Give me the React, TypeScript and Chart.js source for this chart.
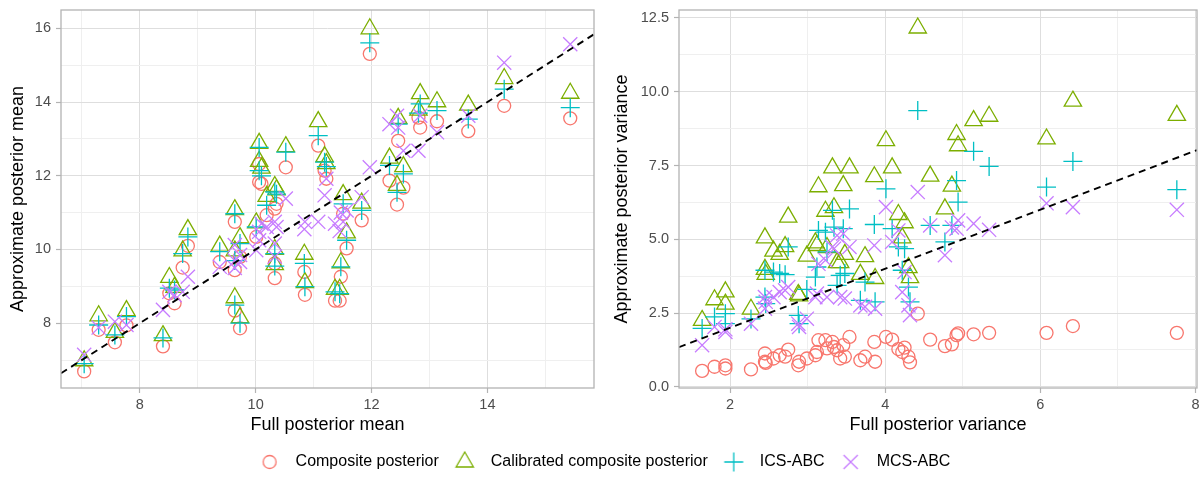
import React, { useEffect, useRef } from "react";
import { Chart, registerables } from "chart.js";

Chart.register(...registerables);

const FONT = '"Liberation Sans", Arial, Helvetica, sans-serif';

const seriesLabels = ["Composite posterior", "Calibrated composite posterior", "ICS-ABC", "MCS-ABC"];
const seriesColors = ["#F8766D", "#7CAE00", "#00BFC4", "#C77CFF"];

// ---- Left panel: posterior means ----
const meanFull = [7.04, 7.29, 7.57, 7.77, 8.40, 8.51, 8.60, 8.74, 8.83, 9.38, 9.64, 9.64, 9.64, 9.73, 9.73, 10.01, 10.33, 10.33, 10.06, 10.06, 10.10, 10.52, 10.33, 10.36, 10.19, 10.84, 10.85, 11.08, 11.19, 11.22, 11.57, 11.51, 11.83, 11.47, 11.37, 11.45, 12.31, 12.44, 12.55, 11.97, 12.46, 12.84, 12.81, 13.13, 13.67, 14.29, 15.43];
const meanComposite = [6.69, 7.82, 7.48, 7.94, 7.37, 8.81, 8.54, 9.51, 10.10, 9.66, 9.44, 10.75, 8.34, 7.86, 9.80, 10.34, 9.62, 9.22, 12.32, 11.83, 11.78, 12.23, 11.11, 11.24, 10.93, 9.39, 8.77, 12.82, 12.14, 11.92, 10.03, 10.97, 10.79, 9.26, 8.61, 8.61, 11.87, 11.22, 11.68, 15.31, 12.95, 13.31, 13.58, 13.48, 13.21, 13.90, 13.56];
const meanCalibrated = [6.98, 8.20, 7.75, 8.34, 7.66, 9.24, 8.97, 9.96, 10.54, 10.09, 9.96, 11.08, 8.69, 8.15, 10.32, 10.72, 10.00, 9.59, 12.88, 12.39, 12.21, 12.79, 11.71, 11.62, 11.44, 9.87, 9.10, 13.47, 12.52, 12.33, 10.45, 11.49, 11.26, 9.64, 8.92, 8.92, 12.48, 11.74, 12.25, 15.99, 13.56, 14.23, 13.78, 14.01, 13.92, 14.64, 14.24];
const meanICS = [6.90, 7.95, 7.68, 8.18, 7.60, 8.95, 8.90, 9.89, 10.34, 9.94, 9.70, 10.97, 8.49, 8.00, 10.16, 10.61, 9.89, 9.55, 12.77, 12.14, 12.00, 12.64, 11.56, 11.50, 11.20, 9.62, 8.99, 13.09, 12.37, 12.25, 10.25, 11.24, 11.06, 9.53, 8.85, 8.80, 12.28, 11.55, 12.05, 15.61, 13.40, 13.95, 13.70, 13.77, 13.54, 14.35, 13.85];
const meanMCS = [7.14, 7.88, 8.04, 7.95, 8.36, 8.85, 8.76, 8.85, 9.26, 9.53, 9.70, 10.12, 9.50, 9.66, 9.85, 9.98, 9.80, 10.16, 10.25, 10.48, 10.70, 11.38, 10.75, 10.61, 10.61, 10.55, 10.75, 10.75, 11.47, 11.92, 11.06, 10.75, 11.42, 11.00, 10.70, 10.50, 13.40, 13.63, 12.68, 12.23, 13.31, 13.63, 12.68, 13.18, 13.63, 15.07, 15.57];

const meanXRange = [6.64, 15.84];
const meanYRange = [6.24, 16.5];
const meanXMajor = [8, 10, 12, 14];
const meanXMinor = [7, 9, 11, 13, 15];
const meanYMajor = [8, 10, 12, 14, 16];
const meanYMinor = [7, 9, 11, 13, 15];

// ---- Right panel: posterior variances ----
const varFull = [1.64, 1.80, 1.94, 1.94, 2.27, 2.45, 2.45, 2.46, 2.56, 2.64, 2.71, 2.75, 2.88, 2.89, 2.99, 3.10, 3.12, 3.14, 3.23, 3.25, 3.32, 3.34, 3.38, 3.42, 3.46, 3.48, 3.54, 3.68, 3.74, 3.87, 3.86, 4.01, 4.09, 4.17, 4.22, 4.25, 4.30, 4.32, 4.42, 4.58, 4.77, 4.86, 4.92, 4.94, 5.14, 5.34, 6.08, 6.42, 7.76];
const varComposite = [0.54, 0.68, 0.73, 0.62, 0.59, 1.13, 0.85, 0.81, 0.96, 1.07, 1.02, 1.26, 0.73, 0.85, 0.96, 1.07, 1.18, 1.58, 1.58, 1.30, 1.52, 1.35, 1.24, 0.96, 1.41, 1.02, 1.69, 0.90, 1.02, 0.85, 1.52, 1.69, 1.60, 1.28, 1.18, 1.33, 1.02, 0.83, 2.48, 1.60, 1.38, 1.44, 1.75, 1.81, 1.78, 1.83, 1.83, 2.06, 1.83];
const varCalibrated = [2.25, 2.95, 3.22, 2.80, 2.63, 5.05, 3.98, 3.81, 4.60, 4.49, 4.75, 5.75, 3.13, 3.08, 4.43, 4.88, 4.79, 6.78, 5.95, 4.72, 7.42, 6.07, 4.21, 4.21, 6.82, 4.49, 7.42, 3.81, 4.41, 3.67, 7.12, 8.34, 7.42, 5.84, 5.05, 5.56, 4.04, 3.70, 12.16, 7.14, 6.03, 6.80, 8.55, 8.17, 9.02, 9.17, 8.40, 9.68, 9.20];
const varICS = [1.98, 2.37, 2.48, 2.14, 2.30, 3.95, 3.04, 2.82, 3.89, 3.84, 3.80, 4.74, 2.42, 2.14, 3.30, 3.72, 4.06, 5.30, 5.24, 4.57, 5.98, 5.41, 3.44, 3.78, 5.36, 3.84, 6.03, 2.93, 3.55, 2.88, 5.50, 6.71, 5.36, 4.74, 3.95, 4.68, 3.38, 2.88, 9.36, 5.47, 4.91, 5.47, 6.99, 6.26, 7.98, 7.47, 6.77, 7.64, 6.68];
const varMCS = [1.41, 2.03, 1.86, 1.95, 2.14, 3.04, 2.65, 2.88, 3.04, 3.21, 3.27, 3.38, 2.14, 2.03, 2.31, 3.04, 3.16, 4.17, 4.29, 3.04, 4.74, 4.68, 5.13, 3.04, 5.19, 2.99, 4.74, 2.76, 2.71, 2.65, 4.79, 6.09, 4.91, 5.30, 3.21, 3.89, 2.76, 2.43, 6.60, 5.47, 4.46, 5.40, 5.36, 5.64, 5.53, 5.32, 6.22, 6.09, 6.00];

const varXRange = [1.342, 8.02];
const varYRange = [-0.04, 12.77];
const varXMajor = [2, 4, 6, 8];
const varXMinor = [3, 5, 7];
const varYMajor = [0, 2.5, 5, 7.5, 10, 12.5];
const varYMinor = [1.25, 3.75, 6.25, 8.75, 11.25];

// ---- styling ----
const markerStyles = ["circle", "triangle", "cross", "crossRot"];
const markerRadii = [6.5, 10, 9.5, 10];
const MARK_W = 1.3;

function scatterSet(i: number, xs: number[], ys: number[]) {
  return {
    type: "scatter" as const,
    label: seriesLabels[i],
    data: xs.map((x, k) => ({ x, y: ys[k] })),
    pointStyle: markerStyles[i],
    pointRadius: markerRadii[i],
    pointHoverRadius: markerRadii[i],
    borderColor: seriesColors[i],
    backgroundColor: "rgba(0,0,0,0)",
    pointBorderWidth: MARK_W,
    borderWidth: MARK_W,
    showLine: false,
    clip: false as any,
    order: 4 - i,
  };
}

function identitySet(range: number[]) {
  return {
    type: "line" as const,
    label: "identity",
    data: [
      { x: range[0], y: range[0] },
      { x: range[1], y: range[1] },
    ],
    borderColor: "#000000",
    borderWidth: 1.9,
    borderDash: [7, 5],
    pointRadius: 0,
    fill: false,
    showLine: true,
    order: 0,
  };
}

function axis(
  title: string,
  range: number[],
  majors: number[],
  minors: number[],
  fmt: (v: number) => string,
  isY: boolean,
  size: number,
  titlePad: number
) {
  const all = [...majors, ...minors].sort((a, b) => a - b);
  const isMajor = (v: number) => majors.some((m) => Math.abs(m - v) < 1e-9);
  return {
    type: "linear" as const,
    min: range[0],
    max: range[1],
    afterBuildTicks: (s: any) => {
      s.ticks = all.map((v) => ({ value: v }));
    },
    afterFit: (s: any) => {
      if (isY) s.width = size;
      else s.height = size;
      s.paddingTop = 0;
      s.paddingBottom = 0;
      s.paddingLeft = 0;
      s.paddingRight = 0;
    },
    ticks: {
      autoSkip: false,
      maxRotation: 0,
      minRotation: 0,
      padding: isY ? 5 : 3,
      color: "#4d4d4d",
      font: { family: FONT, size: 14.5 },
      callback: (v: any) => (isMajor(Number(v)) ? fmt(Number(v)) : ""),
    },
    grid: {
      color: (c: any) => (c.tick && isMajor(c.tick.value) ? "#dedede" : "#efefef"),
      lineWidth: 1,
      drawTicks: true,
      tickLength: 5,
      tickWidth: 1.2,
      tickColor: (c: any) => (c.tick && isMajor(c.tick.value) ? "#b3b3b3" : "rgba(0,0,0,0)"),
    },
    border: { display: false },
    title: {
      display: true,
      text: title,
      color: "#000000",
      font: { family: FONT, size: 18 },
      padding: isY ? { top: titlePad, bottom: 0 } : { top: 0, bottom: titlePad },
    },
  };
}

const framePlugin = {
  id: "panelFrame",
  afterDatasetsDraw(chart: any) {
    const { ctx, chartArea } = chart;
    const { left, top, right, bottom } = chartArea;
    ctx.save();
    ctx.strokeStyle = "#b3b3b3";
    ctx.lineWidth = 1.3;
    ctx.strokeRect(left, top, right - left, bottom - top);
    ctx.restore();
  },
};

function makeIcon(i: number) {
  const c = document.createElement("canvas");
  const s = 26;
  c.width = s;
  c.height = s;
  const ctx = c.getContext("2d")!;
  const r = markerRadii[i];
  const cx = s / 2;
  const cy = s / 2;
  ctx.strokeStyle = seriesColors[i];
  ctx.lineWidth = MARK_W;
  ctx.beginPath();
  const st = markerStyles[i];
  if (st === "circle") {
    ctx.arc(cx, cy, r, 0, Math.PI * 2);
  } else if (st === "triangle") {
    for (let k = 0; k < 3; k++) {
      const a = (k * 2 * Math.PI) / 3;
      const px = cx + Math.sin(a) * r;
      const py = cy - Math.cos(a) * r;
      if (k === 0) ctx.moveTo(px, py);
      else ctx.lineTo(px, py);
    }
    ctx.closePath();
  } else if (st === "cross") {
    ctx.moveTo(cx - r, cy);
    ctx.lineTo(cx + r, cy);
    ctx.moveTo(cx, cy - r);
    ctx.lineTo(cx, cy + r);
  } else {
    const o = r * Math.SQRT1_2;
    ctx.moveTo(cx - o, cy - o);
    ctx.lineTo(cx + o, cy + o);
    ctx.moveTo(cx + o, cy - o);
    ctx.lineTo(cx - o, cy + o);
  }
  ctx.stroke();
  return c;
}

function panelOptions(xAxis: any, yAxis: any, rightPad: number) {
  return {
    responsive: false,
    maintainAspectRatio: false,
    animation: false as const,
    events: [] as any[],
    layout: { autoPadding: false, padding: { top: 10, right: rightPad, left: 0, bottom: 0 } },
    plugins: { legend: { display: false }, tooltip: { enabled: false } },
    scales: { x: xAxis, y: yAxis },
  };
}

export default function App() {
  const leftRef = useRef<HTMLCanvasElement>(null);
  const rightRef = useRef<HTMLCanvasElement>(null);
  const legendRef = useRef<HTMLCanvasElement>(null);

  useEffect(() => {
    const charts: Chart[] = [];

    charts.push(
      new Chart(leftRef.current!, {
        type: "scatter",
        data: {
          datasets: [
            identitySet(meanXRange) as any,
            scatterSet(0, meanFull, meanComposite),
            scatterSet(1, meanFull, meanCalibrated),
            scatterSet(2, meanFull, meanICS),
            scatterSet(3, meanFull, meanMCS),
          ],
        },
        options: panelOptions(
          axis("Full posterior mean", meanXRange, meanXMajor, meanXMinor, (v) => String(v), false, 52, 4),
          axis("Approximate posterior mean", meanYRange, meanYMajor, meanYMinor, (v) => String(v), true, 61, 7),
          6
        ) as any,
        plugins: [framePlugin],
      })
    );

    charts.push(
      new Chart(rightRef.current!, {
        type: "scatter",
        data: {
          datasets: [
            identitySet(varXRange) as any,
            scatterSet(0, varFull, varComposite),
            scatterSet(1, varFull, varCalibrated),
            scatterSet(2, varFull, varICS),
            scatterSet(3, varFull, varMCS),
          ],
        },
        options: panelOptions(
          axis("Full posterior variance", varXRange, varXMajor, varXMinor, (v) => String(v), false, 52, 4),
          axis("Approximate posterior variance", varYRange, varYMajor, varYMinor, (v) => v.toFixed(1), true, 79, 11),
          5
        ) as any,
        plugins: [framePlugin],
      })
    );

    const icons = seriesLabels.map((_, i) => makeIcon(i));
    charts.push(
      new Chart(legendRef.current!, {
        type: "scatter",
        data: { datasets: seriesLabels.map((label) => ({ label, data: [] as any[] })) },
        options: {
          responsive: false,
          maintainAspectRatio: false,
          animation: false,
          events: [],
          layout: { autoPadding: false, padding: 0 },
          scales: { x: { display: false }, y: { display: false } },
          plugins: {
            tooltip: { enabled: false },
            legend: {
              display: true,
              position: "top",
              align: "center",
              maxHeight: 200,
              labels: {
                usePointStyle: true,
                pointStyleWidth: 36,
                padding: 8,
                color: "#000000",
                font: { family: FONT, size: 16 },
                generateLabels: () =>
                  seriesLabels.map((text, i) => ({
                    text,
                    pointStyle: icons[i] as any,
                    fillStyle: "rgba(0,0,0,0)",
                    strokeStyle: "rgba(0,0,0,0)",
                    lineWidth: 0,
                    hidden: false,
                    datasetIndex: i,
                    fontColor: "#000000",
                  })),
              },
            },
          },
        } as any,
      })
    );

    return () => charts.forEach((c) => c.destroy());
  }, []);

  return (
    <div style={{ position: "absolute", left: 0, top: 0, width: 1202, height: 481, background: "#ffffff", overflow: "hidden" }}>
      <canvas ref={leftRef} width={600} height={440} style={{ position: "absolute", left: 0, top: 0, width: 600, height: 440 }} />
      <canvas ref={rightRef} width={602} height={440} style={{ position: "absolute", left: 600, top: 0, width: 602, height: 440 }} />
      <canvas ref={legendRef} width={1202} height={35} style={{ position: "absolute", left: 0, top: 446, width: 1202, height: 35 }} />
    </div>
  );
}
